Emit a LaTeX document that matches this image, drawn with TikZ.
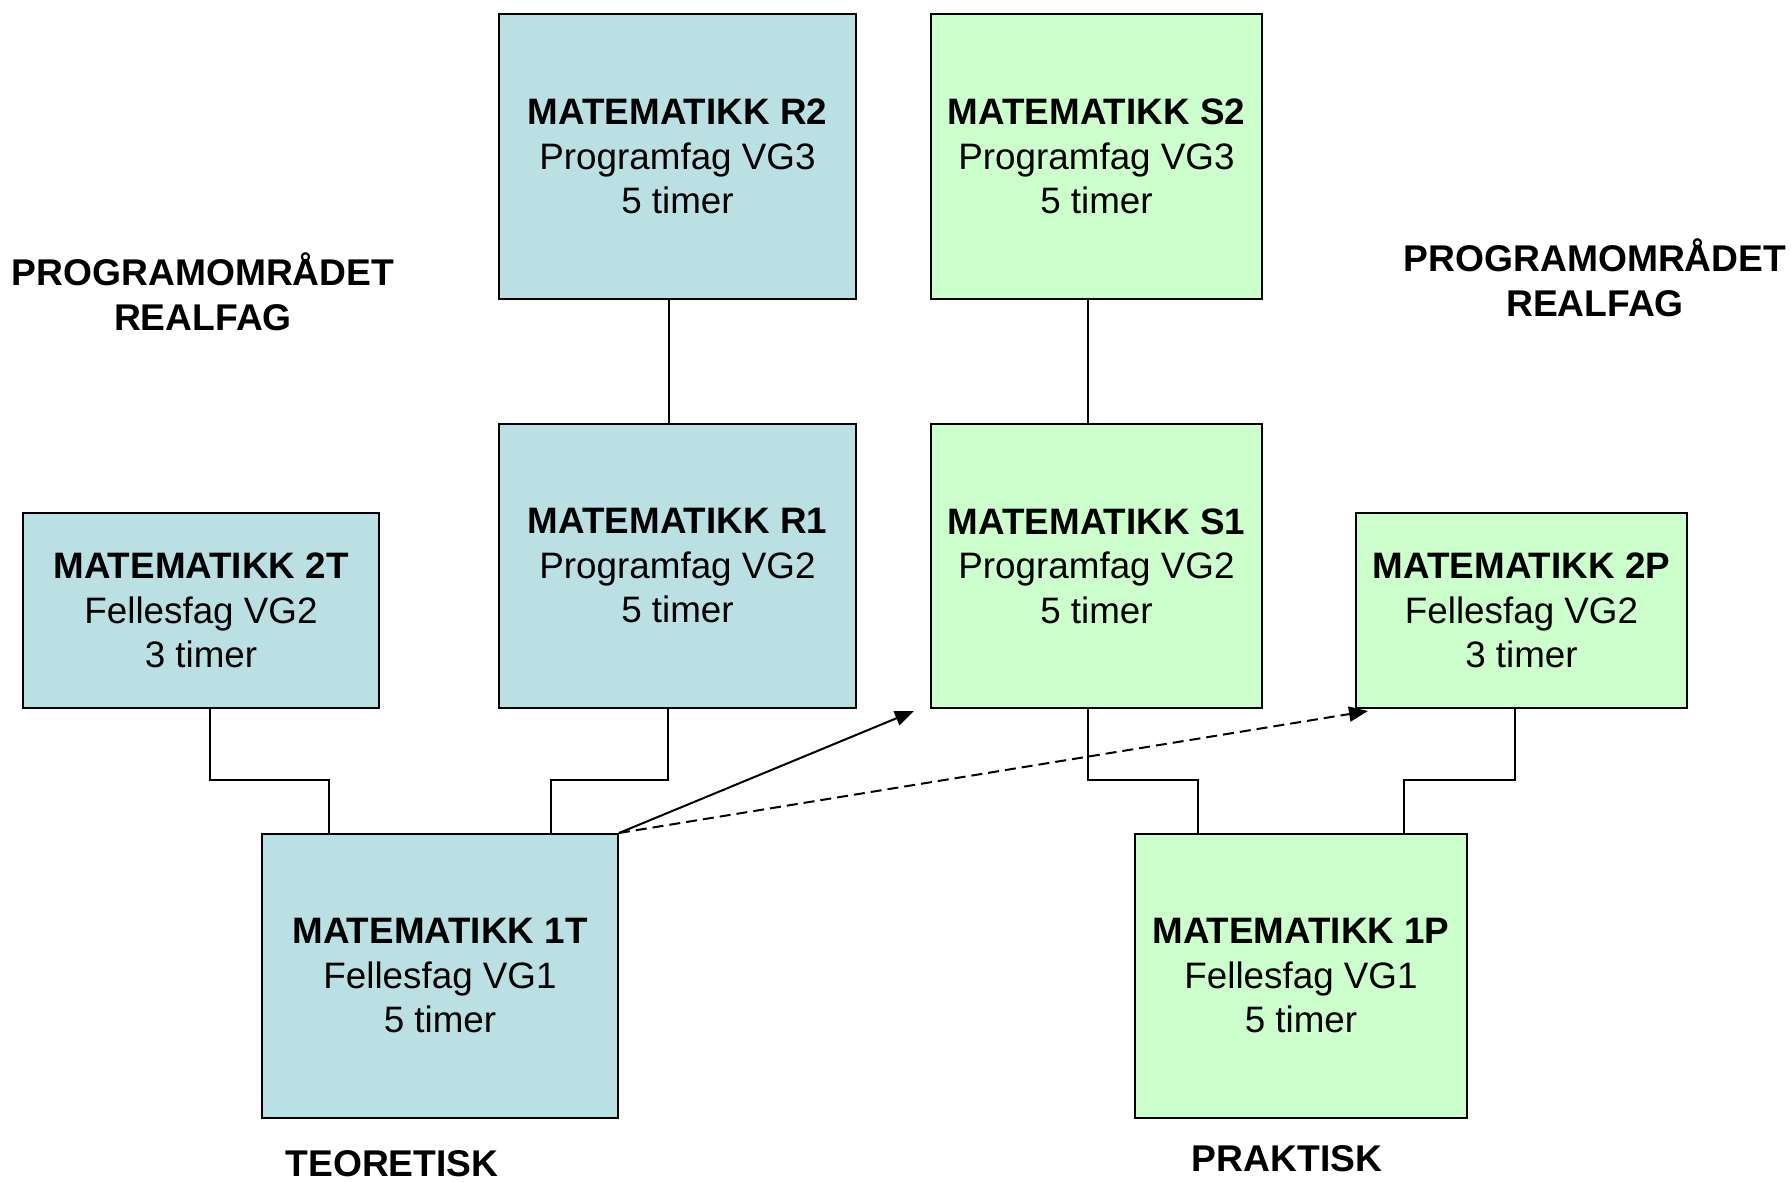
\documentclass[tikz,border=0pt]{standalone}
\usepackage{fontspec}
\setmainfont{Liberation Sans}
\usetikzlibrary{arrows.meta}
\definecolor{boxblue}{HTML}{BBE0E3}
\definecolor{boxgreen}{HTML}{CCFFCC}
\begin{document}
\begin{tikzpicture}[x=1pt,y=-1pt,
  course/.style={draw=black,line width=2pt,inner sep=0pt,align=center,
    font=\fontsize{36.8}{44.5}\selectfont},
  bluebox/.style={course,fill=boxblue},
  greenbox/.style={course,fill=boxgreen},
  lbl/.style={align=center,font=\fontsize{37.2}{44.5}\selectfont\bfseries,inner sep=0pt},
  link/.style={line width=2pt},
  arr/.style={line width=2pt,-{Triangle[length=19pt,width=15pt]}}
]
\useasboundingbox (0,0) rectangle (1791,1181);
% boxes
\node[bluebox,minimum width=357pt,minimum height=285pt] (r2) at (677.5,156.5)
  {\textbf{MATEMATIKK R2}\\Programfag VG3\\5 timer};
\node[greenbox,minimum width=331pt,minimum height=285pt] (s2) at (1096.5,156.5)
  {\textbf{MATEMATIKK S2}\\Programfag VG3\\5 timer};
\node[bluebox,minimum width=357pt,minimum height=284pt] (r1) at (677.5,566)
  {\textbf{MATEMATIKK R1}\\Programfag VG2\\5 timer};
\node[greenbox,minimum width=331pt,minimum height=284pt] (s1) at (1096.5,566)
  {\textbf{MATEMATIKK S1}\\Programfag VG2\\5 timer};
\node[bluebox,minimum width=356pt,minimum height=195pt] (t2) at (201,610.5)
  {\textbf{MATEMATIKK 2T}\\Fellesfag VG2\\3 timer};
\node[greenbox,minimum width=331pt,minimum height=195pt] (p2) at (1521.5,610.5)
  {\textbf{MATEMATIKK 2P}\\Fellesfag VG2\\3 timer};
\node[bluebox,minimum width=356pt,minimum height=284pt] (t1) at (440,976)
  {\textbf{MATEMATIKK 1T}\\Fellesfag VG1\\5 timer};
\node[greenbox,minimum width=332pt,minimum height=284pt] (p1) at (1301,976)
  {\textbf{MATEMATIKK 1P}\\Fellesfag VG1\\5 timer};
% labels
\node[lbl] (lblL) at (203,292) {PROGRAMOMRÅDET\\REALFAG};
\node[lbl] (lblR) at (1595,278) {PROGRAMOMRÅDET\\REALFAG};
\node[lbl,anchor=base] (teo) at (392,1176) {TEORETISK};
\node[lbl,anchor=base] (pra) at (1287,1171) {PRAKTISK};
% connectors
\draw[link] ([xshift=-9pt]r2.south) -- ([xshift=-9pt]r1.north);
\draw[link] ([xshift=-8.5pt]s2.south) -- ([xshift=-8.5pt]s1.north);
\draw[link] ([xshift=9pt]t2.south) -- ++(0,71) -| ([xshift=-111pt]t1.north);
\draw[link] ([xshift=-9.5pt]r1.south) -- ++(0,71) -| ([xshift=111pt]t1.north);
\draw[link] ([xshift=-8.5pt]s1.south) -- ++(0,71) -| ([xshift=-103pt]p1.north);
\draw[link] ([xshift=-6.5pt]p2.south) -- ++(0,71) -| ([xshift=103pt]p1.north);
% arrows
\draw[arr] (t1.north east) -- ([xshift=-16pt,yshift=-2pt]s1.south west);
\draw[arr,dash pattern=on 11pt off 6pt] (t1.north east) -- ([xshift=13pt,yshift=-2pt]p2.south west);
\end{tikzpicture}
\end{document}
